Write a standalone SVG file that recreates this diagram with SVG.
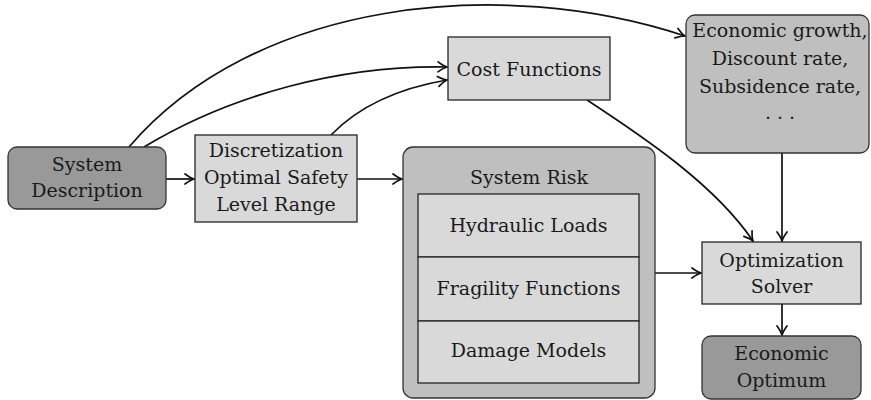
<svg xmlns="http://www.w3.org/2000/svg" width="871" height="400" viewBox="0 0 871 400">
<style>
.t{font-family:'DejaVu Serif','Liberation Serif',serif;font-size:19px;fill:#1a1a1a;text-anchor:middle}
.dark{fill:#999999;stroke:#333333;stroke-width:1.3}
.mid{fill:#bfbfbf;stroke:#333333;stroke-width:1.3}
.light{fill:#d9d9d9;stroke:#262626;stroke-width:1.3}
.c{fill:none;stroke:#111111;stroke-width:1.7;marker-end:url(#ah)}
</style>
<defs>
<marker id="ah" markerUnits="userSpaceOnUse" markerWidth="14" markerHeight="14" viewBox="-11 -7 12 14" refX="0" refY="0" orient="auto">
<path d="M-9,-5 Q-3.5,-1 0,0 Q-3.5,1 -9,5" fill="none" stroke="#111111" stroke-width="1.7" stroke-linecap="round"/>
</marker>
</defs>
<g id="connectors">
<path class="c" d="M166,179 L194,179"/>
<path class="c" d="M357,179 L402,179"/>
<path class="c" d="M655,273 L701,273"/>
<path class="c" d="M782,304 L782,335"/>
<path class="c" d="M782,153 L782,241"/>
<path class="c" d="M587,100 C645,138 715,185 753,241"/>
<path class="c" d="M129,147 C255,0 500,-25 685,36"/>
<path class="c" d="M144,147 C230,95 340,65 447,67"/>
<path class="c" d="M331,135 C360,105 400,88 447,80"/>
</g>
<g id="system-description">
<rect class="dark" x="8" y="147" width="158" height="62" rx="9"/>
<text class="t" x="87" y="171">System</text>
<text class="t" x="87" y="197">Description</text>
</g>
<g id="discretization">
<rect class="light" x="195" y="135" width="162" height="87"/>
<text class="t" x="276" y="157">Discretization</text>
<text class="t" x="276" y="184">Optimal Safety</text>
<text class="t" x="276" y="211">Level Range</text>
</g>
<g id="cost-functions">
<rect class="light" x="448" y="37" width="162" height="63"/>
<text class="t" x="529" y="76">Cost Functions</text>
</g>
<g id="system-risk">
<rect class="mid" x="403" y="147" width="252" height="251" rx="10"/>
<text class="t" x="529" y="184">System Risk</text>
<g id="hydraulic-loads">
<rect class="light" x="418" y="194" width="221" height="63"/>
<text class="t" x="528.5" y="232">Hydraulic Loads</text>
</g>
<g id="fragility-functions">
<rect class="light" x="418" y="257" width="221" height="64"/>
<text class="t" x="528.5" y="295">Fragility Functions</text>
</g>
<g id="damage-models">
<rect class="light" x="418" y="321" width="221" height="62"/>
<text class="t" x="528.5" y="357">Damage Models</text>
</g>
</g>
<g id="economic-parameters">
<rect class="mid" x="686" y="15" width="183" height="138" rx="9"/>
<text class="t" x="780" y="37">Economic growth,</text>
<text class="t" x="780" y="65">Discount rate,</text>
<text class="t" x="780" y="93">Subsidence rate,</text>
<text class="t" x="780" y="119">. . .</text>
</g>
<g id="optimization-solver">
<rect class="light" x="702" y="242" width="159" height="62"/>
<text class="t" x="781.5" y="267">Optimization</text>
<text class="t" x="781.5" y="293">Solver</text>
</g>
<g id="economic-optimum">
<rect class="dark" x="702" y="336" width="159" height="63" rx="9"/>
<text class="t" x="781.5" y="360">Economic</text>
<text class="t" x="781.5" y="387">Optimum</text>
</g>
</svg>
